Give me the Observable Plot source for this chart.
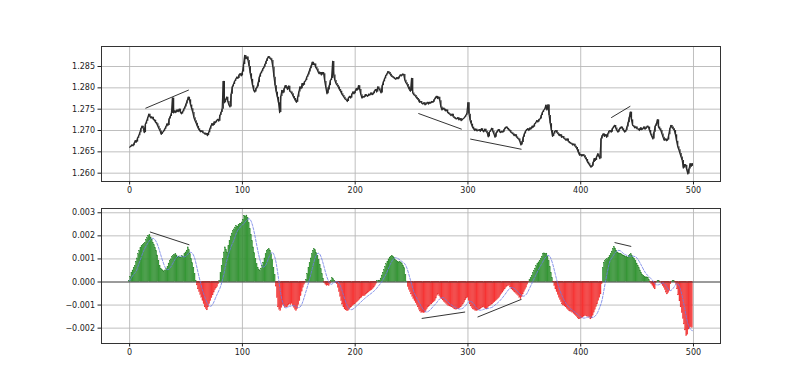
<!DOCTYPE html>
<html><head><meta charset="utf-8">
<script src="https://cdn.jsdelivr.net/npm/d3@7"></script>
<script src="https://cdn.jsdelivr.net/npm/@observablehq/plot@0.6"></script>
<style>
body{margin:0;background:#fff;}
#chart{width:800px;height:385px;overflow:hidden;}
svg{display:block;}
</style></head><body><div id="chart"></div>
<script>
// Price closes, index 0..499
const close = [
1.2661,1.2663,1.2666,1.2664,1.2670,1.2676,1.2673,1.2682,1.2688,1.2695,
1.2704,1.2710,1.2706,1.2695,1.2715,1.2722,1.2730,1.2738,1.2733,1.2729,
1.2731,1.2726,1.2724,1.2719,1.2716,1.2710,1.2704,1.2699,1.2691,1.2695,
1.2698,1.2703,1.2708,1.2715,1.2712,1.2727,1.2733,1.2740,1.2776,1.2741,
1.2746,1.2742,1.2748,1.2744,1.2750,1.2743,1.2739,1.2744,1.2750,1.2755,
1.2762,1.2770,1.2778,1.2772,1.2760,1.2751,1.2742,1.2730,1.2723,1.2717,
1.2710,1.2704,1.2700,1.2697,1.2699,1.2695,1.2694,1.2691,1.2693,1.2688,
1.2695,1.2703,1.2710,1.2716,1.2712,1.2720,1.2718,1.2723,1.2726,1.2722,
1.2735,1.2742,1.2750,1.2815,1.2765,1.2772,1.2778,1.2768,1.2760,1.2755,
1.2785,1.2802,1.2808,1.2815,1.2820,1.2825,1.2822,1.2830,1.2833,1.2828,
1.2837,1.2855,1.2876,1.2868,1.2872,1.2864,1.2850,1.2833,1.2820,1.2805,
1.2794,1.2790,1.2798,1.2802,1.2812,1.2825,1.2833,1.2838,1.2844,1.2848,
1.2855,1.2862,1.2868,1.2873,1.2870,1.2868,1.2864,1.2848,1.2825,1.2805,
1.2790,1.2778,1.2765,1.2742,1.2780,1.2794,1.2788,1.2798,1.2805,1.2802,
1.2796,1.2804,1.2792,1.2790,1.2786,1.2780,1.2775,1.2770,1.2766,1.2778,
1.2790,1.2802,1.2798,1.2810,1.2806,1.2814,1.2817,1.2825,1.2830,1.2837,
1.2845,1.2852,1.2860,1.2855,1.2856,1.2848,1.2844,1.2838,1.2833,1.2836,
1.2830,1.2836,1.2833,1.2815,1.2800,1.2786,1.2795,1.2805,1.2817,1.2822,
1.2862,1.2830,1.2817,1.2810,1.2806,1.2802,1.2796,1.2792,1.2786,1.2782,
1.2778,1.2774,1.2772,1.2768,1.2776,1.2780,1.2776,1.2785,1.2790,1.2786,
1.2792,1.2798,1.2795,1.2805,1.2796,1.2784,1.2776,1.2780,1.2778,1.2784,
1.2782,1.2780,1.2785,1.2783,1.2788,1.2784,1.2786,1.2792,1.2796,1.2790,
1.2802,1.2798,1.2794,1.2788,1.2805,1.2814,1.2821,1.2828,1.2832,1.2838,
1.2836,1.2832,1.2828,1.2826,1.2824,1.2822,1.2820,1.2824,1.2821,1.2826,
1.2830,1.2828,1.2832,1.2831,1.2818,1.2812,1.2808,1.2802,1.2796,1.2792,
1.2822,1.2788,1.2784,1.2782,1.2778,1.2775,1.2772,1.2766,1.2768,1.2764,
1.2762,1.2765,1.2760,1.2763,1.2766,1.2762,1.2766,1.2764,1.2768,1.2766,
1.2772,1.2776,1.2780,1.2775,1.2778,1.2770,1.2755,1.2748,1.2752,1.2750,
1.2746,1.2748,1.2742,1.2740,1.2738,1.2735,1.2738,1.2732,1.2730,1.2728,
1.2727,1.2730,1.2725,1.2728,1.2723,1.2726,1.2728,1.2731,1.2735,1.2740,
1.2765,1.2738,1.2723,1.2715,1.2708,1.2704,1.2700,1.2703,1.2699,1.2700,
1.2702,1.2698,1.2704,1.2700,1.2697,1.2703,1.2698,1.2695,1.2685,1.2696,
1.2700,1.2705,1.2698,1.2692,1.2684,1.2694,1.2698,1.2702,1.2697,1.2695,
1.2698,1.2696,1.2702,1.2706,1.2708,1.2705,1.2702,1.2700,1.2696,1.2694,
1.2692,1.2688,1.2690,1.2685,1.2682,1.2680,1.2674,1.2666,1.2672,1.2684,
1.2692,1.2698,1.2702,1.2704,1.2700,1.2706,1.2704,1.2710,1.2708,1.2715,
1.2718,1.2723,1.2720,1.2726,1.2727,1.2735,1.2742,1.2747,1.2750,1.2759,
1.2748,1.2760,1.2735,1.2716,1.2700,1.2686,1.2692,1.2698,1.2700,1.2695,
1.2692,1.2688,1.2690,1.2684,1.2686,1.2682,1.2680,1.2677,1.2680,1.2674,
1.2672,1.2670,1.2669,1.2666,1.2668,1.2663,1.2660,1.2655,1.2648,1.2642,
1.2644,1.2640,1.2643,1.2641,1.2636,1.2632,1.2626,1.2622,1.2618,1.2614,
1.2616,1.2625,1.2634,1.2630,1.2638,1.2645,1.2640,1.2634,1.2680,1.2688,
1.2692,1.2686,1.2690,1.2684,1.2692,1.2698,1.2700,1.2696,1.2704,1.2708,
1.2712,1.2706,1.2700,1.2696,1.2702,1.2706,1.2708,1.2704,1.2700,1.2696,
1.2700,1.2708,1.2718,1.2730,1.2743,1.2725,1.2712,1.2710,1.2706,1.2708,
1.2704,1.2704,1.2700,1.2706,1.2702,1.2704,1.2708,1.2703,1.2706,1.2710,
1.2708,1.2700,1.2692,1.2686,1.2680,1.2696,1.2710,1.2715,1.2725,1.2708,
1.2704,1.2700,1.2692,1.2684,1.2677,1.2680,1.2676,1.2678,1.2690,1.2704,
1.2712,1.2708,1.2704,1.2700,1.2690,1.2675,1.2662,1.2655,1.2646,1.2638,
1.2630,1.2612,1.2620,1.2618,1.2608,1.2598,1.2610,1.2622,1.2616,1.2622
];
// Oscillator histogram, index 0..499
const histogram = [
5e-5,22e-5,40e-5,50e-5,62e-5,70e-5,88e-5,102e-5,120e-5,135e-5,
148e-5,156e-5,160e-5,165e-5,170e-5,182e-5,190e-5,200e-5,203e-5,193e-5,
184e-5,170e-5,160e-5,148e-5,135e-5,115e-5,92e-5,70e-5,58e-5,52e-5,
48e-5,44e-5,50e-5,55e-5,66e-5,80e-5,90e-5,98e-5,108e-5,113e-5,
118e-5,120e-5,115e-5,106e-5,110e-5,104e-5,106e-5,112e-5,108e-5,120e-5,
128e-5,136e-5,150e-5,138e-5,120e-5,100e-5,82e-5,62e-5,35e-5,5e-5,
-15e-5,-32e-5,-44e-5,-56e-5,-68e-5,-82e-5,-96e-5,-110e-5,-118e-5,-123e-5,
-110e-5,-96e-5,-83e-5,-70e-5,-58e-5,-46e-5,-36e-5,-28e-5,-22e-5,-10e-5,
5e-5,38e-5,70e-5,100e-5,128e-5,150e-5,140e-5,128e-5,155e-5,178e-5,
195e-5,210e-5,220e-5,228e-5,236e-5,243e-5,240e-5,248e-5,250e-5,252e-5,
258e-5,270e-5,287e-5,284e-5,288e-5,278e-5,255e-5,230e-5,205e-5,178e-5,
150e-5,125e-5,100e-5,77e-5,62e-5,52e-5,48e-5,58e-5,70e-5,84e-5,
102e-5,120e-5,135e-5,140e-5,142e-5,136e-5,120e-5,95e-5,62e-5,30e-5,
-20e-5,-70e-5,-110e-5,-120e-5,-126e-5,-112e-5,-100e-5,-104e-5,-112e-5,-108e-5,
-110e-5,-102e-5,-97e-5,-100e-5,-95e-5,-104e-5,-112e-5,-120e-5,-126e-5,-118e-5,
-100e-5,-83e-5,-62e-5,-42e-5,-25e-5,-12e-5,-4e-5,10e-5,35e-5,62e-5,
82e-5,102e-5,120e-5,135e-5,142e-5,138e-5,125e-5,113e-5,95e-5,75e-5,
55e-5,35e-5,15e-5,-5e-5,-12e-5,-17e-5,-15e-5,-18e-5,-8e-5,6e-5,
16e-5,12e-5,4e-5,-4e-5,-10e-5,-25e-5,-44e-5,-64e-5,-83e-5,-98e-5,
-110e-5,-119e-5,-123e-5,-126e-5,-126e-5,-120e-5,-114e-5,-110e-5,-104e-5,-100e-5,
-97e-5,-92e-5,-88e-5,-83e-5,-78e-5,-72e-5,-68e-5,-62e-5,-62e-5,-60e-5,
-54e-5,-50e-5,-46e-5,-42e-5,-38e-5,-36e-5,-30e-5,-24e-5,-17e-5,-8e-5,
3e-5,6e-5,4e-5,15e-5,28e-5,40e-5,52e-5,65e-5,77e-5,88e-5,
98e-5,106e-5,110e-5,113e-5,110e-5,104e-5,96e-5,90e-5,88e-5,85e-5,
86e-5,84e-5,78e-5,70e-5,60e-5,30e-5,2e-5,-22e-5,-34e-5,-44e-5,
-54e-5,-64e-5,-74e-5,-83e-5,-92e-5,-100e-5,-110e-5,-120e-5,-128e-5,-133e-5,
-134e-5,-135e-5,-133e-5,-126e-5,-118e-5,-110e-5,-106e-5,-100e-5,-97e-5,-92e-5,
-88e-5,-83e-5,-72e-5,-60e-5,-54e-5,-62e-5,-70e-5,-75e-5,-80e-5,-86e-5,
-90e-5,-95e-5,-100e-5,-104e-5,-106e-5,-108e-5,-110e-5,-114e-5,-117e-5,-119e-5,
-120e-5,-119e-5,-118e-5,-114e-5,-110e-5,-104e-5,-97e-5,-90e-5,-80e-5,-72e-5,
-68e-5,-82e-5,-97e-5,-106e-5,-114e-5,-119e-5,-122e-5,-125e-5,-126e-5,-124e-5,
-122e-5,-119e-5,-115e-5,-112e-5,-110e-5,-114e-5,-118e-5,-119e-5,-112e-5,-106e-5,
-104e-5,-100e-5,-97e-5,-92e-5,-88e-5,-83e-5,-78e-5,-73e-5,-68e-5,-60e-5,
-53e-5,-46e-5,-39e-5,-32e-5,-25e-5,-20e-5,-17e-5,-17e-5,-24e-5,-32e-5,
-37e-5,-42e-5,-46e-5,-51e-5,-56e-5,-60e-5,-68e-5,-75e-5,-66e-5,-54e-5,
-44e-5,-34e-5,-25e-5,-12e-5,-2e-5,8e-5,16e-5,27e-5,38e-5,48e-5,
58e-5,68e-5,77e-5,85e-5,92e-5,99e-5,110e-5,120e-5,124e-5,123e-5,
123e-5,108e-5,90e-5,65e-5,40e-5,18e-5,-2e-5,-18e-5,-32e-5,-44e-5,
-56e-5,-68e-5,-78e-5,-88e-5,-97e-5,-102e-5,-106e-5,-110e-5,-116e-5,-121e-5,
-126e-5,-128e-5,-131e-5,-133e-5,-138e-5,-143e-5,-148e-5,-153e-5,-158e-5,-162e-5,
-160e-5,-158e-5,-155e-5,-150e-5,-148e-5,-148e-5,-150e-5,-152e-5,-155e-5,-162e-5,
-158e-5,-146e-5,-133e-5,-121e-5,-109e-5,-97e-5,-82e-5,-68e-5,-54e-5,-10e-5,
60e-5,84e-5,90e-5,95e-5,99e-5,104e-5,112e-5,120e-5,132e-5,143e-5,
152e-5,145e-5,136e-5,128e-5,124e-5,122e-5,120e-5,116e-5,115e-5,113e-5,
110e-5,108e-5,106e-5,112e-5,118e-5,120e-5,112e-5,104e-5,99e-5,90e-5,
80e-5,70e-5,60e-5,50e-5,40e-5,32e-5,26e-5,22e-5,20e-5,20e-5,
19e-5,8e-5,-2e-5,-10e-5,-17e-5,-26e-5,-32e-5,-5e-5,2e-5,4e-5,
3e-5,-2e-5,-10e-5,-18e-5,-25e-5,-35e-5,-46e-5,-54e-5,-48e-5,-39e-5,
-10e-5,2e-5,4e-5,3e-5,-2e-5,-12e-5,-32e-5,-58e-5,-84e-5,-110e-5,
-135e-5,-160e-5,-184e-5,-210e-5,-235e-5,-228e-5,-206e-5,-200e-5,-196e-5,-199e-5
];
const xTicks = [0, 100, 200, 300, 400, 500];
const priceTicks = [1.260, 1.265, 1.270, 1.275, 1.280, 1.285];
const oscTicks = [-0.002, -0.001, 0, 0.001, 0.002, 0.003];
// Divergence trend lines (start index, start value, end index, end value)
const priceTrendX1 = [14, 256, 302, 427];
const priceTrendY1 = [1.2752, 1.2740, 1.2680, 1.2730];
const priceTrendX2 = [52.5, 294.5, 347.5, 444];
const priceTrendY2 = [1.2795, 1.2703, 1.2656, 1.2757];
const oscTrendX1 = [18, 259, 308.5, 430];
const oscTrendY1 = [0.00217, -0.00158, -0.00152, 0.00171];
const oscTrendX2 = [53, 297.5, 347.5, 444.8];
const oscTrendY2 = [0.00161, -0.00130, -0.00075, 0.00154];

const rows = close.map((c, i) => ({i, close: c, prev: i > 0 ? close[i - 1] : c, hist: histogram[i]}));
const priceTrends = priceTrendX1.map((x, k) => ({x1: x, y1: priceTrendY1[k], x2: priceTrendX2[k], y2: priceTrendY2[k]}));
const oscTrends = oscTrendX1.map((x, k) => ({x1: x, y1: oscTrendY1[k], x2: oscTrendX2[k], y2: oscTrendY2[k]}));

const style = {fontFamily: "DejaVu Sans", fontSize: "8px", color: "#222", background: "#fff", overflow: "visible"};
const xDomain = [-24.95, 523.95];
const gridStyle = {stroke: "#b8b8b8", strokeOpacity: 1, strokeWidth: 0.9};

const topChart = Plot.plot({
  width: 800, height: 200, marginTop: 46, marginBottom: 19, marginLeft: 101, marginRight: 80,
  style,
  x: {domain: xDomain, axis: null},
  y: {domain: [1.25805, 1.28969], axis: null},
  marks: [
    Plot.gridX(xTicks, gridStyle),
    Plot.gridY(priceTicks, gridStyle),
    Plot.ruleX(rows, {x: "i", y1: "prev", y2: "close", stroke: "#2b2b2b", strokeWidth: 1.3}),
    Plot.lineY(rows, {x: "i", y: "close", stroke: "#2b2b2b", strokeWidth: 1.2}),
    Plot.link(priceTrends, {x1: "x1", y1: "y1", x2: "x2", y2: "y2", stroke: "#000", strokeWidth: 0.8}),
    Plot.frame({stroke: "#333", strokeWidth: 1}),
    Plot.axisX(xTicks, {tickSize: 3.5, tickPadding: 2, tickFormat: d3.format("d"), label: null, fontSize: 8}),
    Plot.axisY(priceTicks, {tickSize: 3.5, tickPadding: 3, tickFormat: d3.format(".3f"), label: null, fontSize: 8})
  ]
});

const pos = rows.filter(d => d.hist >= 0);
const neg = rows.filter(d => d.hist < 0);

const bottomChart = Plot.plot({
  width: 800, height: 185, marginTop: 8, marginBottom: 42, marginLeft: 101, marginRight: 80,
  style,
  x: {domain: xDomain, axis: null},
  y: {domain: [-0.002665, 0.003185], axis: null},
  marks: [
    Plot.gridX(xTicks, gridStyle),
    Plot.gridY(oscTicks, gridStyle),
    Plot.rect(pos, {x1: d => d.i - 0.45, x2: d => d.i + 0.45, y1: () => 0, y2: "hist", fill: "#3da33d", stroke: "#237a23", strokeWidth: 0.3}),
    Plot.rect(neg, {x1: d => d.i - 0.45, x2: d => d.i + 0.45, y1: () => 0, y2: "hist", fill: "#ff3a3a", stroke: "#e02828", strokeWidth: 0.3}),
    Plot.ruleY([0], {stroke: "#333", strokeWidth: 0.8}),
    Plot.lineY(rows, Plot.windowY({k: 7, anchor: "end"}, {x: "i", y: "hist", stroke: "#6b7be6", strokeWidth: 0.8, strokeDasharray: "2.5,1.5"})),
    Plot.link(oscTrends, {x1: "x1", y1: "y1", x2: "x2", y2: "y2", stroke: "#000", strokeWidth: 0.8}),
    Plot.frame({stroke: "#333", strokeWidth: 1}),
    Plot.axisX(xTicks, {tickSize: 3.5, tickPadding: 2, tickFormat: d3.format("d"), label: null, fontSize: 8}),
    Plot.axisY(oscTicks, {tickSize: 3.5, tickPadding: 3, tickFormat: d3.format(".3f"), label: null, fontSize: 8})
  ]
});

const el = document.getElementById("chart");
el.append(topChart, bottomChart);
</script>
</body></html>
